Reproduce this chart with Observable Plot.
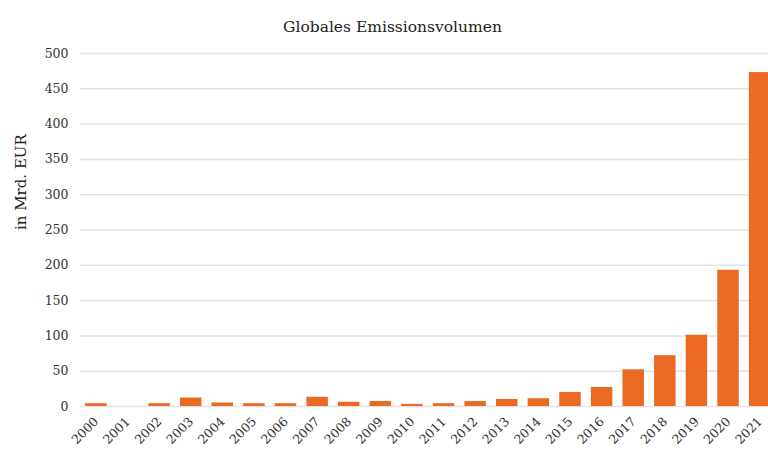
<!DOCTYPE html>
<html>
<head>
<meta charset="utf-8">
<script src="https://cdn.jsdelivr.net/npm/d3@7"></script>
<script src="https://cdn.jsdelivr.net/npm/@observablehq/plot@0.6"></script>
<style>
  body { margin: 0; background: #fff; }
  #chart svg { font-family: "DejaVu Serif", "Liberation Serif", serif; }
</style>
</head>
<body>
<div id="chart"></div>
<script>
const years = ["2000","2001","2002","2003","2004","2005","2006","2007","2008","2009","2010","2011","2012","2013","2014","2015","2016","2017","2018","2019","2020","2021"];
const values = [4, 0, 4, 12, 5, 4, 4, 13, 6, 7, 3, 4, 7, 10, 11, 20, 27, 52, 72, 101, 193, 473];
const yTicks = [0, 50, 100, 150, 200, 250, 300, 350, 400, 450, 500];
const title = "Globales Emissionsvolumen";
const yLabel = "in Mrd. EUR";

const data = years.map((y, i) => ({year: y, value: values[i]}));

const chart = Plot.plot({
  width: 768,
  height: 450,
  marginLeft: 80,
  marginRight: 0,
  marginTop: 53,
  marginBottom: 44,
  style: {fontFamily: "'DejaVu Serif', serif", fontSize: "12px", color: "#333", background: "#fff", overflow: "hidden"},
  x: {domain: years, range: [75, 780.5], padding: 0.32, round: false, label: null},
  y: {domain: [0, 500], label: null},
  marks: [
    Plot.gridY(yTicks, {stroke: "#e3e3e3", strokeOpacity: 1, strokeWidth: 1.5}),
    Plot.barY(data, {x: "year", y: "value", fill: "#ea6a23"}),
    Plot.axisX({tickSize: 0, tickRotate: -45, tickPadding: 13, fontSize: 12.5, fill: "#333"}),
    Plot.axisY({ticks: yTicks, tickSize: 0, tickPadding: 12, fontSize: 12.5, fill: "#333"}),
    Plot.text([title], {frameAnchor: "top", dy: -33, dx: -32, fontSize: 15.5, fill: "#222"}),
    Plot.text([yLabel], {frameAnchor: "left", dx: -59, rotate: -90, fontSize: 15, fill: "#222"})
  ]
});
document.getElementById("chart").appendChild(chart);
</script>
</body>
</html>
